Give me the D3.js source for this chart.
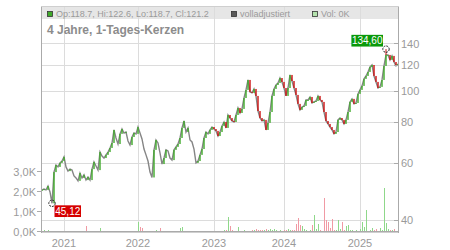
<!DOCTYPE html>
<html><head><meta charset="utf-8">
<script src="https://cdn.jsdelivr.net/npm/d3@7"></script>
<style>
body{margin:0;background:#fff}
svg{display:block;font-family:"Liberation Sans",Arial,sans-serif}
</style>
</head><body>
<svg id="c" width="450" height="250"></svg>
<script>
// ---- data (sampled closes, in EUR) ----
const closes = [
 49.6, 49.9, 49.6, 51.0, 48.9, 45.12, 56.3, 59.2, 58.4, 60.1,
 60.9, 62.7, 58.4, 56.7, 57.5, 57.1, 54.8, 54.0, 52.9, 55.9,
 54.0, 55.2, 53.2, 54.4, 53.2, 57.5, 60.5, 58.8, 57.1, 64.9,
 63.1, 62.2, 63.6, 64.9, 66.8, 69.2, 75.9, 71.7, 68.7, 73.8,
 76.4, 74.3, 74.8, 70.2, 68.2, 72.2, 74.3, 73.8, 77.5, 74.3,
 71.2, 66.3, 63.6, 60.9, 56.3, 54.2, 65.9, 70.7, 69.2, 64.5,
 59.6, 62.2, 65.9, 65.4, 62.2, 61.3, 65.9, 67.3, 68.7, 71.7,
 77.0, 80.9, 74.8, 77.0, 70.7, 69.7, 66.3, 60.1, 60.9, 63.6,
 66.3, 71.7, 74.8, 73.8, 75.9, 77.5, 76.4, 75.4, 72.7, 74.8,
 78.1, 80.3, 77.0, 84.4, 82.6, 80.9, 80.3, 84.4, 88.7, 85.6,
 88.1, 95.2, 100.8, 108.2, 99.4, 98.7, 101.5, 96.6, 86.8, 82.6,
 80.9, 81.5, 75.9, 79.8, 86.2, 96.6, 101.5, 104.4, 105.9, 109.7,
 106.7, 102.2, 96.6, 102.2, 112.1, 107.4, 102.2, 97.3, 91.3, 87.5,
 89.3, 90.0, 93.9, 93.9, 95.9, 91.9, 92.6, 93.2, 96.6, 93.9,
 92.6, 86.2, 80.9, 79.2, 77.5, 75.9, 73.8, 74.8, 81.5, 82.6,
 81.5, 79.2, 81.5, 86.2, 92.6, 94.6, 91.3, 91.9, 98.0, 100.8,
 103.7, 109.0, 111.3, 114.5, 118.6, 120.3, 111.3, 106.7, 102.2, 103.0,
 108.2, 119.5, 129.2, 129.2, 124.7, 128.3, 122.9, 119.5, 121.2
];
// volume in thousands
const volumes = [
 0.06,0.08,0.05,0.07,0.06,0.04,0.02,0.02,0.02,0.02,
 0.02,0.03,0.02,0.02,0.02,0.02,0.02,0.02,0.02,0.02,
 0.02,0.02,0.3,0.02,0.02,0.03,0.02,0.02,0.02,0.17,
 0.02,0.02,0.02,0.02,0.02,0.05,0.02,0.02,0.03,0.02,
 0.02,0.02,0.02,0.02,0.02,0.02,0.02,0.03,0.5,0.25,
 0.2,0.03,0.02,0.03,0.05,0.02,0.03,0.1,0.03,0.18,
 0.03,0.05,0.03,0.02,0.02,0.02,0.02,0.03,0.02,0.2,
 0.22,0.03,0.02,0.02,0.02,0.02,0.03,0.05,0.04,0.03,
 0.02,0.02,0.02,0.02,0.02,0.02,0.02,0.03,0.02,0.05,
 0.03,0.1,0.08,0.75,0.3,0.1,0.04,0.03,0.22,0.05,
 0.06,0.08,0.05,0.06,0.04,0.1,0.1,0.12,0.1,0.1,
 0.08,0.1,0.12,0.1,0.15,0.1,0.15,0.08,0.06,0.08,
 0.05,0.08,0.1,0.15,0.1,0.1,0.1,0.4,0.7,0.35,
 0.3,0.15,0.08,0.05,0.1,0.35,0.85,0.15,0.4,0.08,
 0.05,1.7,0.6,0.5,0.2,0.65,0.1,0.1,0.6,0.15,
 0.5,0.1,0.3,0.35,0.1,0.1,0.05,0.1,0.05,0.15,
 0.5,0.25,1.1,0.05,0.1,0.2,0.1,0.15,0.05,0.2,
 0.1,2.2,0.45,0.15,0.1,0.1,0.15,0.05,0.05
];
const ohlcFromIndex = 86;            // full OHLC candles from 2023 on
const yearLabels = ["2021","2022","2023","2024","2025"];
const yearStartIndex = [11, 48, 86, 121, 159];
const priceTicks = [40, 60, 80, 100, 120, 140];
const volumeTicks = [0, 1, 2, 3];
const volumeTickLabels = ["0,0K","1,0K","2,0K","3,0K"];
const lowMark = {index: 5, value: 45.12, label: "45,12"};
const highMark = {index: 172, value: 134.60, label: "134,60"};
const legendLabels = ["Op:118.7, Hi:122.6, Lo:118.7, Cl:121.2", "volladjustiert", "Vol: 0K"];
const title = "4 Jahre, 1-Tages-Kerzen";

// ---- drawing ----
const svg = d3.select("#c");
const L = 42, R = 398, T = 7, B = 232;
const GREEN = "#3faa2a", RED = "#cc1111", LINE = "#858585", GRID = "#dcdcdc", AX = "#aaaaaa", TXT = "#9a9a9a";

const x = d3.scaleLinear().domain([0, closes.length - 1]).range([L, R]);
const y = d3.scaleLog().domain([40, 140]).range([220.3, 43.6]);
const yv = d3.scaleLinear().domain([0, 3]).range([231.7, 171.7]);

// header band
svg.append("rect").attr("x", L).attr("y", T).attr("width", R - L).attr("height", 12).attr("fill", "#e6e6e6");

// grid
const grid = svg.append("g").attr("shape-rendering", "crispEdges").attr("stroke", GRID).attr("stroke-width", 1);
grid.selectAll("line.h").data(priceTicks).join("line")
  .attr("x1", L).attr("x2", R).attr("y1", d => y(d)).attr("y2", d => y(d));
grid.selectAll("line.v").data(yearStartIndex).join("line")
  .attr("x1", d => x(d)).attr("x2", d => x(d)).attr("y1", T).attr("y2", B);

// frame
svg.append("rect").attr("x", L - 0.5).attr("y", T - 0.5).attr("width", R - L + 1).attr("height", B - T + 1)
  .attr("fill", "none").attr("stroke", "#cfcfcf").attr("shape-rendering", "crispEdges");

// volume bars
svg.append("g").attr("shape-rendering", "crispEdges").selectAll("rect").data(volumes).join("rect")
  .attr("x", (d, i) => x(i) - 0.5).attr("width", 1)
  .attr("y", d => yv(d)).attr("height", d => Math.max(0.6, yv(0) - yv(d)))
  .attr("fill", (d, i) => (i > 0 && closes[i] < closes[i - 1]) ? "#f09aa4" : "#8fd88a");

// close line
svg.append("path").datum(closes)
  .attr("d", d3.line().x((d, i) => x(i)).y(d => y(d)))
  .attr("fill", "none").attr("stroke", LINE).attr("stroke-width", 1.4);

// candles (open = previous close)
const candles = closes.map((c, i) => ({i, o: i > 0 ? closes[i - 1] : c, c}))
  .filter(d => d.c >= d.o || d.i >= ohlcFromIndex);
svg.append("g").selectAll("rect").data(candles).join("rect")
  .attr("x", d => x(d.i) - 0.7).attr("width", 1.4)
  .attr("y", d => y(Math.max(d.o, d.c)))
  .attr("height", d => Math.max(1, Math.abs(y(d.o) - y(d.c))))
  .attr("fill", d => d.c >= d.o ? GREEN : RED);

// wicks to the marked extremes
[lowMark, highMark].forEach(m => {
  svg.append("line").attr("x1", x(m.index)).attr("x2", x(m.index))
    .attr("y1", y(closes[m.index])).attr("y2", y(m.value))
    .attr("stroke", m === highMark ? RED : GREEN).attr("stroke-width", 1);
});

// axes lines
const ax = svg.append("g").attr("shape-rendering", "crispEdges").attr("stroke", AX);
ax.append("line").attr("x1", L - 0.5).attr("x2", L - 0.5).attr("y1", T).attr("y2", B + 0.5);
ax.append("line").attr("x1", R + 0.5).attr("x2", R + 0.5).attr("y1", T).attr("y2", B + 0.5);
ax.append("line").attr("x1", L - 0.5).attr("x2", R + 0.5).attr("y1", B - 0.5).attr("y2", B - 0.5);
ax.selectAll("line.rt").data(priceTicks).join("line")
  .attr("x1", R - 4).attr("x2", R).attr("y1", d => y(d)).attr("y2", d => y(d));
ax.selectAll("line.lt").data(volumeTicks).join("line")
  .attr("x1", L - 5).attr("x2", L - 1).attr("y1", d => yv(d)).attr("y2", d => yv(d));

// right labels
svg.append("g").selectAll("text").data(priceTicks).join("text")
  .attr("x", R + 3).attr("y", d => y(d)).attr("dy", "0.36em")
  .attr("font-size", 11).attr("fill", TXT).text(d => d);
// left labels
svg.append("g").selectAll("text").data(volumeTicks).join("text")
  .attr("x", L - 6).attr("y", d => yv(d)).attr("dy", "0.36em").attr("text-anchor", "end")
  .attr("font-size", 11).attr("fill", TXT).text((d, i) => volumeTickLabels[i]);
// year labels
svg.append("g").selectAll("text").data(yearStartIndex).join("text")
  .attr("x", d => x(d)).attr("y", 246.5).attr("text-anchor", "middle")
  .attr("font-size", 11).attr("fill", TXT).text((d, i) => yearLabels[i]);

// legend
const legendX = [47, 231, 312];
const legendFill = [GREEN, "#5a5a5a", "#b4e2ad"];
const lg = svg.append("g");
legendLabels.forEach((t, i) => {
  lg.append("rect").attr("x", legendX[i] + 0.5).attr("y", 11.5).attr("width", 5).attr("height", 5)
    .attr("fill", legendFill[i]).attr("stroke", "#333").attr("stroke-width", 0.8);
  lg.append("text").attr("x", legendX[i] + 9).attr("y", 17).attr("font-size", 9).attr("fill", TXT).text(t);
});

// title
svg.append("text").attr("x", 47).attr("y", 34).attr("font-size", 12).attr("font-weight", "bold")
  .attr("fill", "#8c8c8c").text(title);

// extreme markers
function marker(m, color, placeAbove) {
  const cx = x(m.index), cy = y(m.value);
  const g = svg.append("g");
  const tw = m.label.length * 5.1 + 1;
  const bx = placeAbove ? cx - 3 - tw : cx + 2.5;
  const by = placeAbove ? cy - 14.3 : cy + 2;
  g.append("rect").attr("x", bx).attr("y", by).attr("width", tw).attr("height", 11.7).attr("fill", color);
  g.append("text").attr("x", bx + tw / 2).attr("y", by + 9.3).attr("text-anchor", "middle")
    .attr("font-size", 10).attr("fill", "#fff").text(m.label);
  g.append("circle").attr("cx", cx).attr("cy", cy).attr("r", 3.2)
    .attr("fill", "none").attr("stroke", "#222").attr("stroke-width", 1).attr("stroke-dasharray", "2,1");
}
marker(lowMark, "#d50000", false);
marker(highMark, "#0a990a", true);
</script>
</body></html>
